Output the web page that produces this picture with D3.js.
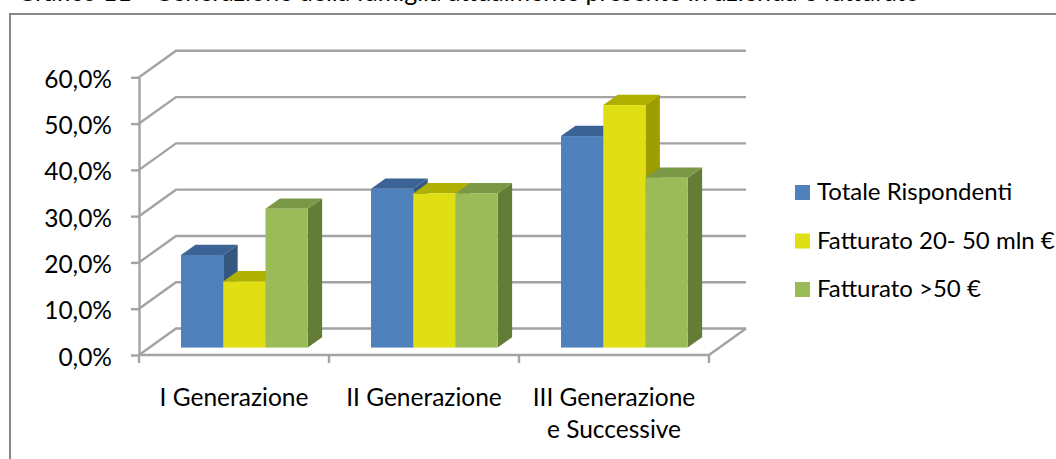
<!DOCTYPE html>
<html>
<head>
<meta charset="utf-8">
<script src="https://cdn.jsdelivr.net/npm/d3@7"></script>
<style>
  body { margin: 0; background: #fff; }
  svg { display: block; }
  text { font-family: Lato, "Noto Sans", sans-serif; fill: #000; }
</style>
</head>
<body>
<svg id="chart" width="1056" height="459"></svg>
<script>
// ---- data ----
const categories = ["I Generazione", "II Generazione", "III Generazione\ne Successive"];
const seriesNames = ["Totale Rispondenti", "Fatturato 20- 50 mln €", "Fatturato >50 €"];
const totaleRispondenti = [20.0, 34.3, 45.7];
const fatturato20_50 = [14.3, 33.3, 52.4];
const fatturatoOver50 = [30.0, 33.3, 36.7];
const yTicks = [0, 10, 20, 30, 40, 50, 60];
const titleText = "Grafico 11 - Generazione della famiglia attualmente presente in azienda e fatturato";

const seriesValues = [totaleRispondenti, fatturato20_50, fatturatoOver50];

// face colours per series: front, top, side
const palette = [
  { front: "#4F81BD", top: "#3B6395", side: "#34587F" },
  { front: "#DFDF13", top: "#B0B000", side: "#9E9E00" },
  { front: "#9BBB59", top: "#7A9845", side: "#647D36" }
];

const svg = d3.select("#chart");

// outer frame
svg.append("rect")
  .attr("x", 10).attr("y", 14)
  .attr("width", 1100).attr("height", 500)
  .attr("fill", "none").attr("stroke", "#878787").attr("stroke-width", 2);

// title, sitting just above the top edge of the page
svg.append("text")
  .attr("x", 17).attr("y", 0.5)
  .attr("font-size", 25)
  .text(titleText);

// ---- scales ----
const x = d3.scaleBand().domain(categories).range([139, 709]);
const xs = d3.scaleBand().domain(seriesNames)
  .range([0, x.bandwidth()])
  .paddingInner(0).paddingOuter(0.75);
const y = d3.scaleLinear().domain([0, 60]).range([355, 77.3]);

// oblique depth of the plot box
const DX = 37, DY = -26.5;
const f0 = 0.28, f1 = 0.67;   // bar depth span as a fraction of the box depth

const gridColor = "#A3A3A3";
const labelSize = 24.5;
const legendSize = 24;

// back wall and side wall gridlines
const grid = svg.append("g").attr("fill", "none")
  .attr("stroke", gridColor).attr("stroke-width", 2.4);
yTicks.forEach(v => {
  const yf = y(v);
  grid.append("path")
    .attr("d", `M${x.range()[0]},${yf} L${x.range()[0] + DX},${yf + DY} L${x.range()[1] + DX},${yf + DY}`);
});
// right floor edge
grid.append("path")
  .attr("d", `M${x.range()[1]},${y(0)} L${x.range()[1] + DX},${y(0) + DY}`);

// y axis
const yAxis = svg.append("g")
  .attr("transform", `translate(${x.range()[0]},0)`)
  .call(d3.axisLeft(y).tickValues(yTicks)
    .tickFormat(d => d.toFixed(1).replace(".", ",") + "%")
    .tickSize(8).tickSizeOuter(0).tickPadding(19));
yAxis.select(".domain").attr("stroke", gridColor).attr("stroke-width", 2.4);
yAxis.selectAll(".tick line").attr("stroke", gridColor).attr("stroke-width", 2.4);
yAxis.selectAll(".tick text")
  .attr("dy", 10)
  .attr("font-size", labelSize)
  .attr("font-family", "Lato, 'Noto Sans', sans-serif")
  .attr("fill", "#000");

// x axis line and category boundary ticks
const xAxis = svg.append("g").attr("stroke", gridColor).attr("stroke-width", 2.4);
xAxis.append("line")
  .attr("x1", x.range()[0]).attr("x2", x.range()[1])
  .attr("y1", y(0)).attr("y2", y(0));
const bounds = categories.map(c => x(c)).concat([x.range()[1]]);
bounds.forEach(b => {
  xAxis.append("line")
    .attr("x1", b).attr("x2", b)
    .attr("y1", y(0)).attr("y2", y(0) + 8);
});

// category labels
categories.forEach(c => {
  const t = svg.append("text")
    .attr("text-anchor", "middle")
    .attr("font-size", labelSize);
  c.split("\n").forEach((line, i) => {
    t.append("tspan")
      .attr("x", x(c) + x.bandwidth() / 2)
      .attr("y", 406 + i * 32)
      .text(line);
  });
});

// 3D bars: side, top, front drawn left to right
const bars = svg.append("g");
const bw = xs.bandwidth();
const ox = f0 * DX, oy = f0 * DY;            // front plane offset
const dx = (f1 - f0) * DX, dy = (f1 - f0) * DY; // bar depth
categories.forEach((c, ci) => {
  seriesNames.forEach((s, si) => {
    const v = seriesValues[si][ci];
    const xl = x(c) + xs(s) + ox;
    const xr = xl + bw;
    const yb = y(0) + oy;
    const yt = y(v) + oy;
    const col = palette[si];
    const g = bars.append("g");
    g.append("path")
      .attr("d", `M${xr},${yt} L${xr + dx},${yt + dy} L${xr + dx},${yb + dy} L${xr},${yb} Z`)
      .attr("fill", col.side);
    g.append("path")
      .attr("d", `M${xl},${yt} L${xl + dx},${yt + dy} L${xr + dx},${yt + dy} L${xr},${yt} Z`)
      .attr("fill", col.top);
    g.append("rect")
      .attr("x", xl).attr("y", yt)
      .attr("width", bw).attr("height", yb - yt)
      .attr("fill", col.front);
  });
});

// legend
const legend = svg.append("g");
seriesNames.forEach((s, i) => {
  const ly = 200 + i * 48.5;
  legend.append("rect")
    .attr("x", 795).attr("y", ly - 15)
    .attr("width", 15).attr("height", 15)
    .attr("fill", palette[i].front);
  legend.append("text")
    .attr("x", 817).attr("y", ly)
    .attr("font-size", legendSize)
    .text(s);
});
</script>
</body>
</html>
